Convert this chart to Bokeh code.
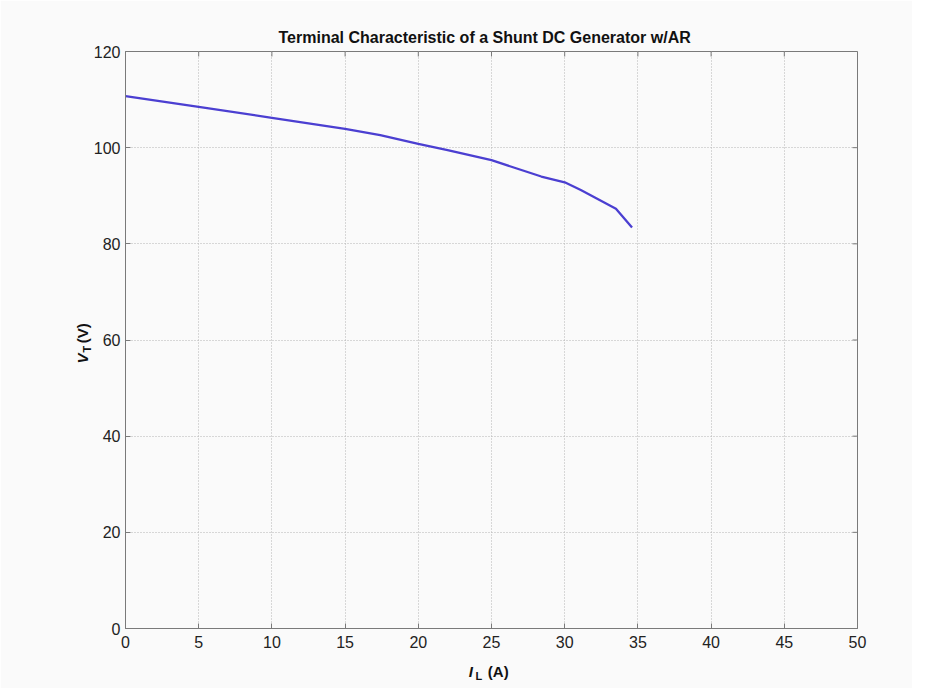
from bokeh.plotting import figure
from bokeh.models import Range1d, Label, FixedTicker
from bokeh.embed import file_html
from bokeh.resources import INLINE
import math

# Data
il_amps = [0, 5, 10, 15, 17.4, 20, 22, 25, 27.2, 28.4, 30, 31.1, 33.5, 34.6]
vt_volts = [110.7, 108.5, 106.2, 103.9, 102.6, 100.8, 99.5, 97.4, 95.2, 94.0, 92.8, 91.2, 87.3, 83.4]

x_ticks = [0, 5, 10, 15, 20, 25, 30, 35, 40, 45, 50]
y_ticks = [0, 20, 40, 60, 80, 100, 120]
title_text = "Terminal Characteristic of a Shunt DC Generator w/AR"

BG = "#fafafa"
AX = "#7a7a7a"
FONT = "Liberation Sans"

p = figure(width=912, height=688, output_backend="svg", toolbar_location=None,
           x_range=Range1d(0, 50), y_range=Range1d(0, 120),
           min_border_left=125, min_border_right=55, min_border_top=51, min_border_bottom=60)

p.background_fill_color = BG
p.border_fill_color = BG
p.outline_line_color = AX
p.outline_line_width = 1

for ax in (p.xaxis[0], p.yaxis[0]):
    ax.axis_line_color = AX
    ax.major_tick_line_color = AX
    ax.major_tick_in = 5
    ax.major_tick_out = 0
    ax.minor_tick_line_color = None
    ax.major_label_text_font = FONT
    ax.major_label_text_font_size = "16px"
    ax.major_label_text_color = "#222222"
p.xaxis[0].ticker = FixedTicker(ticks=x_ticks)
p.yaxis[0].ticker = FixedTicker(ticks=y_ticks)
p.xaxis[0].major_label_standoff = 7
p.yaxis[0].major_label_standoff = 5

p.xgrid.ticker = FixedTicker(ticks=x_ticks)
p.ygrid.ticker = FixedTicker(ticks=y_ticks)
for g in (p.xgrid[0], p.ygrid[0]):
    g.grid_line_color = "#b5b5b5"
    g.grid_line_dash = "1 2"
    g.grid_line_width = 1

# mirrored inward ticks on the top and right edges (box on)
p.ray(x=x_ticks, y=[120] * len(x_ticks), length=5, length_units="screen",
      angle=-math.pi / 2, line_color=AX, line_width=1)
p.ray(x=[50] * len(y_ticks), y=y_ticks, length=5, length_units="screen",
      angle=math.pi, line_color=AX, line_width=1)

p.line(il_amps, vt_volts, line_color="#4b3fd1", line_width=2.3)

common = dict(text_font=FONT, text_color="#111111", text_baseline="alphabetic", text_align="left")

# title (as a label in the top side panel so it can be centred exactly)
p.add_layout(Label(x=24.53, y=123.0, text=title_text, text_font=FONT, text_color="#111111",
                   text_baseline="alphabetic", text_align="center",
                   text_font_size="16px", text_font_style="bold"), "above")

# x-axis label: I_L (A)  (kept in a side panel so it is not clipped by the frame)
p.add_layout(Label(x=23.45, y=-8.87, text="I",
                   text_font_size="15px", text_font_style="bold italic", **common), "right")
p.add_layout(Label(x=23.9, y=-9.9, text="L",
                   text_font_size="11px", text_font_style="bold", **common), "right")
p.add_layout(Label(x=24.75, y=-8.87, text="(A)",
                   text_font_size="15px", text_font_style="bold", **common), "right")

# y-axis label: V_T (V)
p.add_layout(Label(x=-2.95, y=55.1, text="V", angle=math.pi / 2,
                   text_font_size="15px", text_font_style="bold italic", **common), "left")
p.add_layout(Label(x=-2.61, y=57.4, text="T", angle=math.pi / 2,
                   text_font_size="11px", text_font_style="bold", **common), "left")
p.add_layout(Label(x=-2.95, y=59.3, text="(V)", angle=math.pi / 2,
                   text_font_size="15px", text_font_style="bold", **common), "left")

open("out.html", "w").write(file_html(p, INLINE))
